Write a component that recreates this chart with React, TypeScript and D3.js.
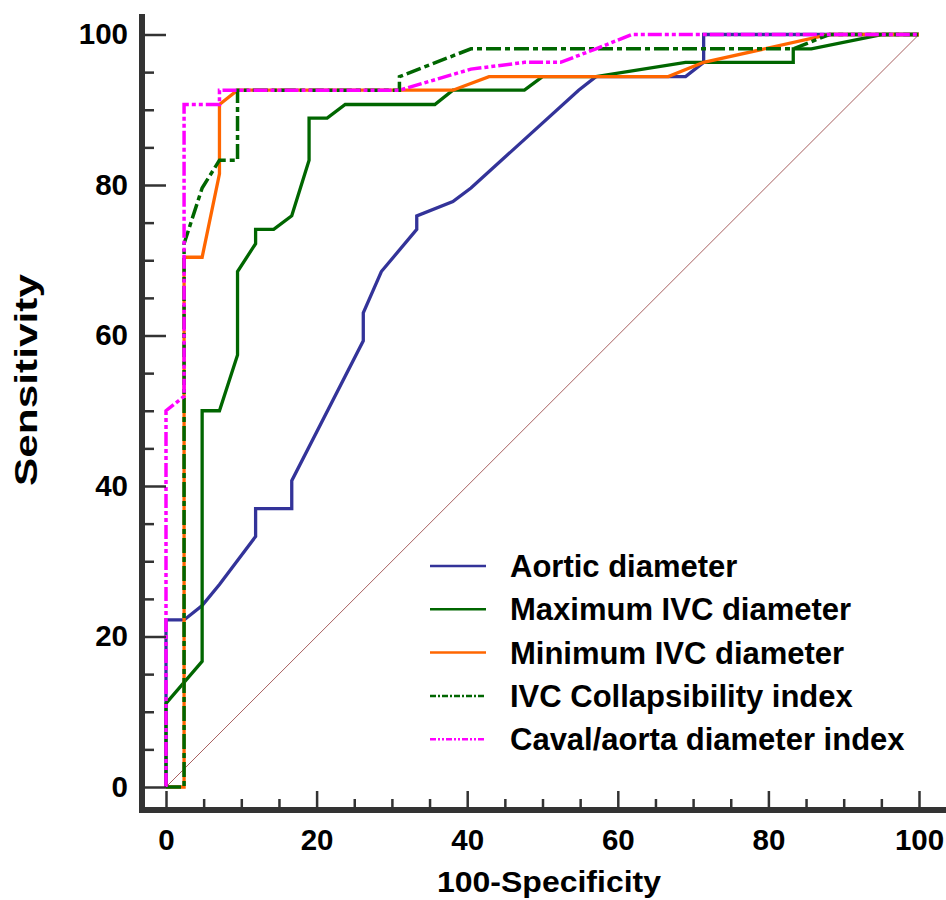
import React from "react";
import * as d3 from "d3";

// ROC points as [100-Specificity, Sensitivity]
const aortic: [number, number][] = [
  [0, 0], [0, 22.2], [2.4, 22.2], [4.8, 24.1], [7.1, 26.9], [11.9, 33.3], [11.9, 37.0],
  [16.7, 37.0], [16.7, 40.7], [26.2, 59.3], [26.2, 63.0], [28.6, 68.5], [33.3, 74.1],
  [33.3, 75.9], [38.1, 77.8], [40.5, 79.6], [54.8, 92.6], [57.1, 94.4], [69.0, 94.4],
  [71.4, 96.3], [71.4, 100], [100, 100],
];
const maxIvc: [number, number][] = [
  [0, 0], [0, 11.1], [4.8, 16.7], [4.8, 50.0], [7.1, 50.0], [9.5, 57.4], [9.5, 68.5],
  [11.9, 72.2], [11.9, 74.1], [14.3, 74.1], [16.7, 75.9], [19.0, 83.3], [19.0, 88.9],
  [21.4, 88.9], [23.8, 90.7], [35.7, 90.7], [38.1, 92.6], [47.6, 92.6], [50.0, 94.4],
  [57.1, 94.4], [69.0, 96.3], [83.3, 96.3], [83.3, 98.1], [85.7, 98.1], [95.2, 100], [100, 100],
];
const minIvc: [number, number][] = [
  [0, 0], [2.4, 0], [2.4, 70.4], [4.8, 70.4], [7.1, 81.5], [7.1, 90.7], [9.5, 92.6],
  [38.1, 92.6], [42.9, 94.4], [66.7, 94.4], [71.4, 96.3], [88.1, 100], [100, 100],
];
const collapsIdx: [number, number][] = [
  [0, 0], [2.4, 0], [2.4, 72.2], [4.8, 79.6], [7.1, 83.3], [9.5, 83.3], [9.5, 92.6],
  [31.0, 92.6], [31.0, 94.4], [40.5, 98.1], [83.3, 98.1], [88.1, 100], [100, 100],
];
const cavalAorta: [number, number][] = [
  [0, 0], [0, 50.0], [2.4, 51.9], [2.4, 90.7], [7.1, 90.7], [7.1, 92.6], [31.0, 92.6],
  [40.5, 95.4], [47.6, 96.3], [52.4, 96.3], [57.1, 98.1], [61.9, 100], [100, 100],
];

const seriesNames = [
  "Aortic diameter",
  "Maximum IVC diameter",
  "Minimum IVC diameter",
  "IVC Collapsibility index",
  "Caval/aorta diameter index",
];
const seriesData = [aortic, maxIvc, minIvc, collapsIdx, cavalAorta];
const colors = ["#333399", "#006600", "#ff6600", "#006600", "#ff00ff"];
const dashes = [null, null, null, "15,4,5,4", "14,3,4,3,4,3"];
const legendDashes = [null, null, null, "6,2,2,2", "6,2,2,2,2,2"];

const majorTicks = [0, 20, 40, 60, 80, 100];
const minorTicks = d3.range(0, 101, 5).filter((d) => d % 20 !== 0);

const App = () => {
  const ref = React.useRef<SVGSVGElement>(null);

  React.useEffect(() => {
    document.body.style.margin = "0";
    const width = 946;
    const font = "'Liberation Sans', Arial, sans-serif";

    const svg = d3.select(ref.current);
    svg.selectAll("*").remove();

    const x = d3.scaleLinear().domain([0, 100]).range([166, 919]);
    const y = d3.scaleLinear().domain([0, 100]).range([787, 34.5]);

    const axisX = 142;
    const axisY = 810;

    // diagonal reference
    svg.append("line")
      .attr("x1", x(0)).attr("y1", y(0))
      .attr("x2", x(100)).attr("y2", y(100))
      .attr("stroke", "#a86060")
      .attr("stroke-width", 1);

    const line = d3.line<[number, number]>().x((d) => x(d[0])).y((d) => y(d[1]));

    seriesData.forEach((data, i) => {
      svg.append("path")
        .attr("d", line(data))
        .attr("fill", "none")
        .attr("stroke", colors[i])
        .attr("stroke-width", dashes[i] ? 3.5 : 3.3)
        .attr("stroke-linejoin", "miter")
        .attr("stroke-dasharray", dashes[i]);
    });

    // axes
    const styleAxis = (g) => {
      g.select(".domain").remove();
      g.selectAll(".tick line").attr("stroke", "#333").attr("stroke-width", 2.5);
      g.selectAll(".tick text")
        .attr("font-family", font)
        .attr("font-weight", "bold")
        .attr("font-size", 29.5)
        .attr("fill", "#000");
    };

    svg.append("g")
      .attr("transform", `translate(${axisX + 3},0)`)
      .call(d3.axisLeft(y).tickValues(majorTicks).tickSize(-21).tickPadding(17))
      .call(styleAxis);
    svg.append("g")
      .attr("transform", `translate(${axisX + 3},0)`)
      .call(d3.axisLeft(y).tickValues(minorTicks).tickSize(-9).tickFormat(() => ""))
      .call(styleAxis);

    svg.append("g")
      .attr("transform", `translate(0,${axisY - 3})`)
      .call(d3.axisBottom(x).tickValues(majorTicks).tickSize(-16).tickPadding(22))
      .call(styleAxis);
    svg.append("g")
      .attr("transform", `translate(0,${axisY - 3})`)
      .call(d3.axisBottom(x).tickValues(minorTicks).tickSize(-8).tickFormat(() => ""))
      .call(styleAxis);

    svg.append("line")
      .attr("x1", axisX).attr("y1", 14).attr("x2", axisX).attr("y2", axisY + 3)
      .attr("stroke", "#333").attr("stroke-width", 6);
    svg.append("line")
      .attr("x1", axisX - 3).attr("y1", axisY).attr("x2", width).attr("y2", axisY)
      .attr("stroke", "#333").attr("stroke-width", 6);

    // titles
    svg.append("text")
      .attr("x", 549).attr("y", 892)
      .attr("text-anchor", "middle")
      .attr("font-family", font).attr("font-weight", "bold").attr("font-size", 29)
      .attr("textLength", 224).attr("lengthAdjust", "spacingAndGlyphs")
      .text("100-Specificity");
    svg.append("text")
      .attr("transform", "translate(37,380) rotate(-90)")
      .attr("text-anchor", "middle")
      .attr("font-family", font).attr("font-weight", "bold").attr("font-size", 32)
      .attr("textLength", 212).attr("lengthAdjust", "spacingAndGlyphs")
      .text("Sensitivity");

    // legend
    const legend = svg.append("g").attr("transform", "translate(430,566)");
    seriesNames.forEach((name, i) => {
      const row = legend.append("g").attr("transform", `translate(0,${i * 43.3})`);
      row.append("line")
        .attr("x1", 0).attr("x2", 56).attr("y1", 0).attr("y2", 0)
        .attr("stroke", colors[i])
        .attr("stroke-width", 2.5)
        .attr("stroke-dasharray", legendDashes[i]);
      row.append("text")
        .attr("x", 80).attr("y", 11)
        .attr("font-family", font).attr("font-weight", "bold").attr("font-size", 31)
        .attr("fill", "#000")
        .text(name);
    });
  }, []);

  return <svg ref={ref} width={946} height={900} style={{ display: "block", background: "#fff" }} />;
};

export default App;
